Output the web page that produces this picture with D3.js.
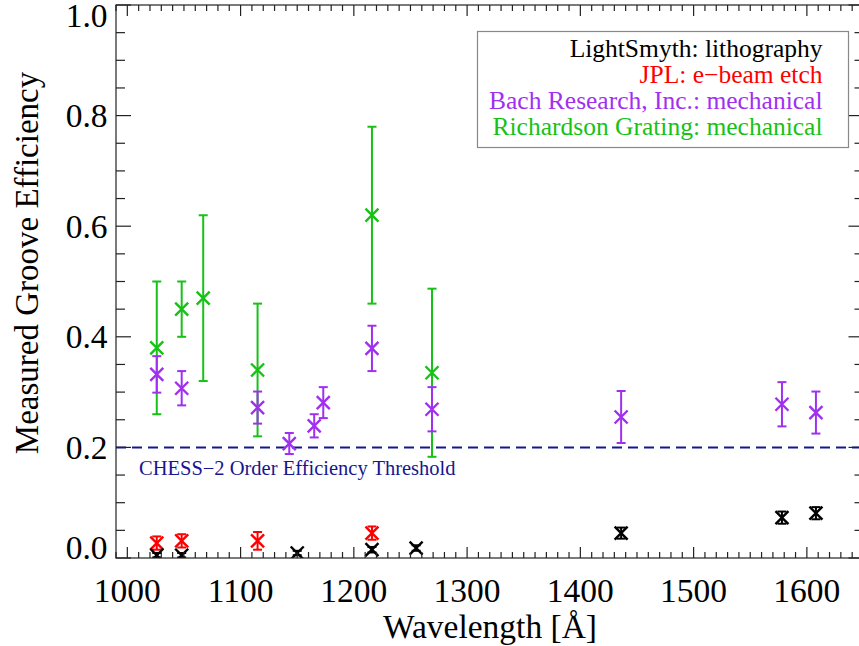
<!DOCTYPE html>
<html lang="en">
<head>
<meta charset="UTF-8">
<title>Measured Groove Efficiency</title>
<script src="https://d3js.org/d3.v7.min.js"></script>
<style>
    body { margin: 0; background: #fff; }
    svg { display: block; font-family: "Liberation Serif", "Times New Roman", serif; }
</style>
</head>
<body>
<svg id="chart" width="859" height="646"></svg>
<script>
    // LightSmyth: lithography
    const lsWave = [1026, 1048, 1150, 1216, 1255, 1436, 1578, 1608];
    const lsEff  = [0.005, 0.005, 0.009, 0.015, 0.018, 0.045, 0.073, 0.081];
    const lsErr  = [0.004, 0.004, 0.004, 0.005, 0.005, 0.010, 0.011, 0.011];

    // JPL: e-beam etch
    const jplWave = [1026, 1048, 1115, 1216];
    const jplEff  = [0.027, 0.031, 0.031, 0.045];
    const jplErr  = [0.012, 0.012, 0.016, 0.012];

    // Bach Research, Inc.: mechanical
    const bachWave = [1026, 1048, 1115, 1143, 1165, 1173, 1216, 1269, 1436, 1578, 1608];
    const bachEff  = [0.332, 0.307, 0.272, 0.207, 0.239, 0.281, 0.379, 0.269, 0.255, 0.278, 0.263];
    const bachErr  = [0.033, 0.031, 0.029, 0.019, 0.021, 0.028, 0.041, 0.040, 0.047, 0.040, 0.038];

    // Richardson Grating: mechanical
    const richWave = [1026, 1048, 1067, 1115, 1216, 1269];
    const richEff  = [0.38, 0.45, 0.47, 0.34, 0.62, 0.335];
    const richErr  = [0.12, 0.05, 0.15, 0.12, 0.16, 0.152];

    const threshold = 0.2;
    const xTicks = [1000, 1100, 1200, 1300, 1400, 1500, 1600];
    const yTicks = [0.0, 0.2, 0.4, 0.6, 0.8, 1.0];

    const series = [
        { name: 'Richardson Grating: mechanical', color: '#16c216', wave: richWave, eff: richEff, err: richErr },
        { name: 'Bach Research, Inc.: mechanical', color: '#a030f0', wave: bachWave, eff: bachEff, err: bachErr },
        { name: 'JPL: e\u2212beam etch', color: '#ff0000', wave: jplWave, eff: jplEff, err: jplErr },
        { name: 'LightSmyth: lithography', color: '#000000', wave: lsWave, eff: lsEff, err: lsErr }
    ];

    const pLeft = 116, pRight = 863.5, pTop = 5, pBottom = 558;

    const svg = d3.select('#chart');

    const x = d3.scaleLinear().domain([990, 1650]).range([pLeft, pRight]);
    const y = d3.scaleLinear().domain([0, 1]).range([pBottom, pTop]);

    svg.append('clipPath').attr('id', 'plot-clip')
        .append('rect')
        .attr('x', pLeft).attr('y', pTop)
        .attr('width', pRight - pLeft).attr('height', pBottom - pTop);

    // threshold line + label
    svg.append('line')
        .attr('x1', pLeft).attr('x2', pRight)
        .attr('y1', y(threshold)).attr('y2', y(threshold))
        .attr('stroke', '#16168f')
        .attr('stroke-width', 2)
        .attr('stroke-dasharray', '10,6');

    svg.append('text')
        .attr('x', 139).attr('y', 475)
        .attr('font-size', 20.5)
        .attr('fill', '#16168f')
        .text('CHESS\u22122 Order Efficiency Threshold');

    // data points with error bars
    const plot = svg.append('g').attr('clip-path', 'url(#plot-clip)');
    const cap = 4.5, mk = 6.5;

    series.forEach(s => {
        const pts = s.wave.map((w, i) => ({ w: w, v: s.eff[i], e: s.err[i] }));
        const g = plot.append('g')
            .attr('stroke', s.color)
            .attr('stroke-width', 2)
            .attr('fill', 'none');

        const pt = g.selectAll('g.pt')
            .data(pts)
            .enter().append('g')
            .attr('class', 'pt');

        pt.append('line')
            .attr('x1', d => x(d.w)).attr('x2', d => x(d.w))
            .attr('y1', d => y(d.v + d.e)).attr('y2', d => y(d.v - d.e));
        pt.append('line')
            .attr('x1', d => x(d.w) - cap).attr('x2', d => x(d.w) + cap)
            .attr('y1', d => y(d.v + d.e)).attr('y2', d => y(d.v + d.e));
        pt.append('line')
            .attr('x1', d => x(d.w) - cap).attr('x2', d => x(d.w) + cap)
            .attr('y1', d => y(d.v - d.e)).attr('y2', d => y(d.v - d.e));
        pt.append('path')
            .attr('stroke-width', 2.4)
            .attr('d', d => {
                const cx = x(d.w), cy = y(d.v);
                return `M${cx - mk},${cy - mk}L${cx + mk},${cy + mk}M${cx - mk},${cy + mk}L${cx + mk},${cy - mk}`;
            });
    });

    // axes box with ticks on all sides
    const axisColor = '#222';
    svg.append('rect')
        .attr('x', pLeft).attr('y', pTop)
        .attr('width', pRight - pLeft).attr('height', pBottom - pTop)
        .attr('fill', 'none')
        .attr('stroke', axisColor)
        .attr('stroke-width', 1.2);

    const ticks = svg.append('g').attr('stroke', axisColor).attr('stroke-width', 1.2);
    const xMinor = d3.range(990, 1651, 10);
    ticks.selectAll('line.xb')
        .data(xMinor)
        .enter().append('line')
        .attr('class', 'xb')
        .attr('x1', d => x(d)).attr('x2', d => x(d))
        .attr('y1', pBottom)
        .attr('y2', d => pBottom - (d % 100 === 0 ? 11 : 6));
    ticks.selectAll('line.xt')
        .data(xMinor)
        .enter().append('line')
        .attr('class', 'xt')
        .attr('x1', d => x(d)).attr('x2', d => x(d))
        .attr('y1', pTop)
        .attr('y2', d => pTop + (d % 100 === 0 ? 11 : 6));

    const yMinor = d3.range(0, 21).map(i => i * 0.05);
    ticks.selectAll('line.yl')
        .data(yMinor)
        .enter().append('line')
        .attr('class', 'yl')
        .attr('y1', d => y(d)).attr('y2', d => y(d))
        .attr('x1', pLeft)
        .attr('x2', (d, i) => pLeft + (i % 4 === 0 ? 15 : 9));
    ticks.selectAll('line.yr')
        .data(yMinor)
        .enter().append('line')
        .attr('class', 'yr')
        .attr('y1', d => y(d)).attr('y2', d => y(d))
        .attr('x1', pRight)
        .attr('x2', (d, i) => pRight - (i % 4 === 0 ? 15 : 9));

    // tick labels
    svg.append('g')
        .selectAll('text')
        .data(xTicks)
        .enter().append('text')
        .attr('x', d => x(d))
        .attr('y', 601.5)
        .attr('text-anchor', 'middle')
        .attr('font-size', 33.5)
        .text(d => d);

    svg.append('g')
        .selectAll('text')
        .data(yTicks)
        .enter().append('text')
        .attr('x', 107.5)
        .attr('y', d => Math.min(Math.max(y(d), pTop + 11), pBottom - 10))
        .attr('dy', '0.34em')
        .attr('text-anchor', 'end')
        .attr('font-size', 33.5)
        .text(d => d.toFixed(1));

    // axis titles
    svg.append('text')
        .attr('x', 490).attr('y', 638)
        .attr('text-anchor', 'middle')
        .attr('font-size', 33.5)
        .text('Wavelength [\u00c5]');

    svg.append('text')
        .attr('transform', 'translate(38,263) rotate(-90)')
        .attr('text-anchor', 'middle')
        .attr('font-size', 33)
        .text('Measured Groove Efficiency');

    // legend
    const legend = svg.append('g');
    legend.append('rect')
        .attr('x', 477.5).attr('y', 31.5)
        .attr('width', 371).attr('height', 116)
        .attr('fill', '#fff')
        .attr('stroke', '#888')
        .attr('stroke-width', 1.2);

    legend.selectAll('text')
        .data(series.slice().reverse())
        .enter().append('text')
        .attr('x', 822.5)
        .attr('y', (d, i) => 56.5 + i * 26)
        .attr('text-anchor', 'end')
        .attr('font-size', 25.5)
        .attr('fill', d => d.color)
        .text(d => d.name);
</script>
</body>
</html>
